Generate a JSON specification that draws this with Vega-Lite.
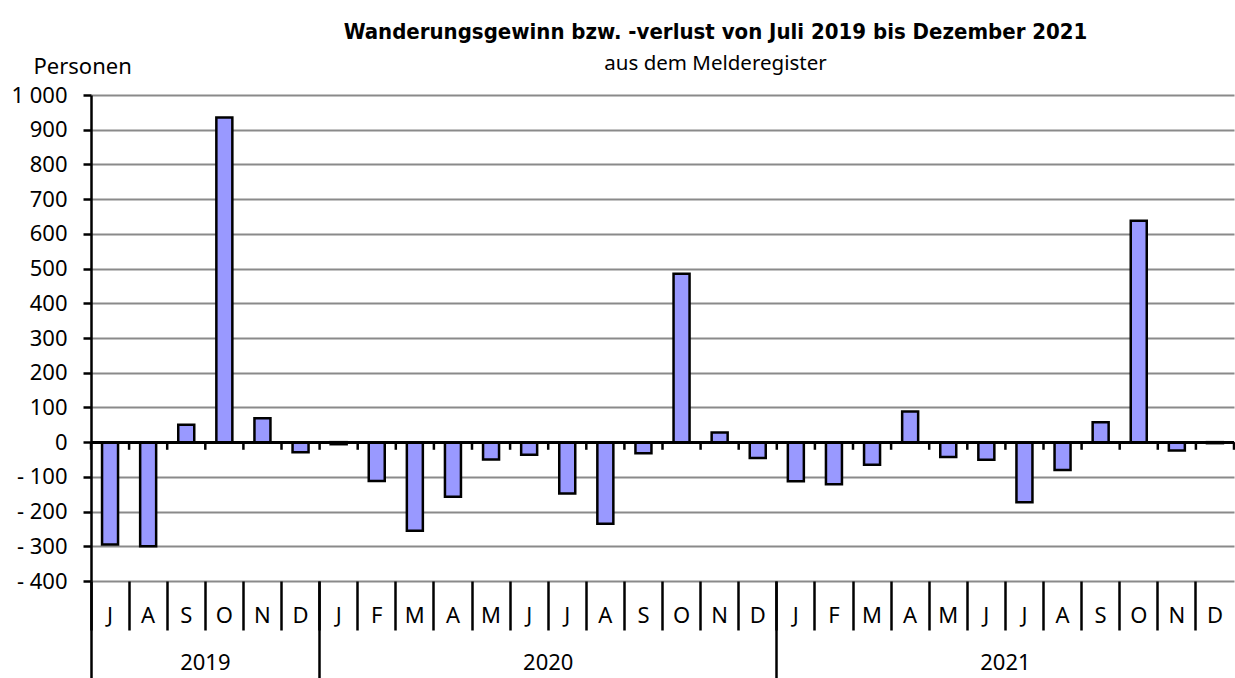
{
  "$schema": "https://vega.github.io/schema/vega-lite/v6.json",
  "width": 1143,
  "height": 486,
  "autosize": {"type": "none"},
  "padding": {"left": 91, "top": 95, "right": 1, "bottom": 97},
  "background": "white",
  "config": {"view": {"stroke": null}, "font": "Noto Sans"},
  "title": {
    "text": "Wanderungsgewinn bzw. -verlust von Juli 2019 bis Dezember 2021",
    "subtitle": "aus dem Melderegister",
    "font": "DejaVu Sans Condensed",
    "fontWeight": "bold",
    "fontSize": 22,
    "color": "black",
    "subtitleFont": "Noto Sans",
    "subtitleFontSize": 20.5,
    "subtitleColor": "black",
    "subtitlePadding": 10,
    "anchor": "middle",
    "frame": "group",
    "dx": 53,
    "offset": -20
  },
  "data": {
    "values": [
      {"key": "2019-07", "value": -295},
      {"key": "2019-08", "value": -300},
      {"key": "2019-09", "value": 50},
      {"key": "2019-10", "value": 935},
      {"key": "2019-11", "value": 69},
      {"key": "2019-12", "value": -29},
      {"key": "2020-01", "value": -6},
      {"key": "2020-02", "value": -112},
      {"key": "2020-03", "value": -255},
      {"key": "2020-04", "value": -157},
      {"key": "2020-05", "value": -50},
      {"key": "2020-06", "value": -36},
      {"key": "2020-07", "value": -148},
      {"key": "2020-08", "value": -235},
      {"key": "2020-09", "value": -32},
      {"key": "2020-10", "value": 485},
      {"key": "2020-11", "value": 28},
      {"key": "2020-12", "value": -46},
      {"key": "2021-01", "value": -113},
      {"key": "2021-02", "value": -121},
      {"key": "2021-03", "value": -65},
      {"key": "2021-04", "value": 88},
      {"key": "2021-05", "value": -43},
      {"key": "2021-06", "value": -51},
      {"key": "2021-07", "value": -173},
      {"key": "2021-08", "value": -80},
      {"key": "2021-09", "value": 57},
      {"key": "2021-10", "value": 638},
      {"key": "2021-11", "value": -24},
      {"key": "2021-12", "value": -3}
    ]
  },
  "resolve": {"axis": {"x": "independent", "y": "independent"}},
  "layer": [
    {
      "mark": {"type": "bar", "fill": "#9999FF", "stroke": "black", "strokeWidth": 2.5, "width": {"band": 0.42}},
      "encoding": {
        "x": {
          "field": "key",
          "type": "ordinal",
          "sort": null,
          "scale": {"paddingInner": 0, "paddingOuter": 0},
          "axis": {
            "orient": "bottom",
            "title": null,
            "domain": false,
            "grid": false,
            "bandPosition": 0,
            "tickExtra": false,
            "tickSize": 49,
            "tickWidth": 2.5,
            "tickColor": "black",
            "labelAngle": 0,
            "labelBaseline": "middle",
            "labelAlign": "center",
            "labelPadding": -15,
            "labelFontSize": 22,
            "labelColor": "black",
            "labelFont": "Noto Sans",
            "labelOverlap": false,
            "labelExpr": "['J','F','M','A','M','J','J','A','S','O','N','D'][toNumber(substring(datum.value,5,7))-1]"
          }
        },
        "y": {
          "field": "value",
          "type": "quantitative",
          "scale": {"domain": [-400, 1000], "nice": false, "zero": false},
          "axis": {
            "orient": "left",
            "tickCount": 14,
            "labelOverlap": false,
            "labelBound": false,
            "grid": true,
            "gridColor": "#8a8a8a",
            "gridWidth": 2,
            "domainColor": "black",
            "domainWidth": 2.5,
            "tickColor": "black",
            "tickWidth": 2.5,
            "tickSize": 8,
            "labelFontSize": 22,
            "labelColor": "black",
            "labelPadding": 16,
            "labelFont": "Noto Sans",
            "labelExpr": "datum.value == 1000 ? '1 000' : (datum.value < 0 ? '- ' + abs(datum.value) : '' + datum.value)",
            "title": "Personen",
            "titleAngle": 0,
            "titleAlign": "left",
            "titleBaseline": "alphabetic",
            "titleX": -58,
            "titleY": -22,
            "titleFontSize": 22,
            "titleFontWeight": "normal",
            "titleColor": "black",
            "titleFont": "Noto Sans"
          }
        }
      }
    },
    {
      "mark": {"type": "rule", "color": "black", "strokeWidth": 2.5},
      "encoding": {
        "y": {"datum": 0, "type": "quantitative", "axis": null}
      }
    },
    {
      "mark": {"type": "rule", "color": "black", "strokeWidth": 2.5},
      "encoding": {
        "x": {
          "field": "key",
          "type": "ordinal",
          "sort": null,
          "bandPosition": 0,
          "axis": {
            "orient": "bottom",
            "title": null,
            "domain": false,
            "grid": false,
            "labels": false,
            "values": ["2019-07", "2020-01", "2021-01"],
            "bandPosition": 0,
            "tickExtra": false,
            "tickSize": 97,
            "tickWidth": 2.5,
            "tickColor": "black"
          }
        },
        "y": {"datum": 0, "type": "quantitative", "axis": null},
        "y2": {"datum": -22}
      }
    },
    {
      "transform": [{"filter": "datum.key == '2021-12'"}],
      "mark": {"type": "rule", "color": "black", "strokeWidth": 2.5},
      "encoding": {
        "x": {
          "field": "key",
          "type": "ordinal",
          "sort": null,
          "bandPosition": 1,
          "axis": {
            "orient": "bottom",
            "title": null,
            "domain": false,
            "grid": false,
            "ticks": false,
            "values": ["2019-10", "2020-07", "2021-07"],
            "labelOffset": -19,
            "labelAngle": 0,
            "labelBaseline": "middle",
            "labelAlign": "center",
            "labelPadding": 81,
            "labelFontSize": 22,
            "labelColor": "black",
            "labelFont": "Noto Sans",
            "labelOverlap": false,
            "labelExpr": "substring(datum.value,0,4)"
          }
        },
        "y": {"datum": 0, "type": "quantitative", "axis": null},
        "y2": {"datum": -22}
      }
    }
  ]
}
